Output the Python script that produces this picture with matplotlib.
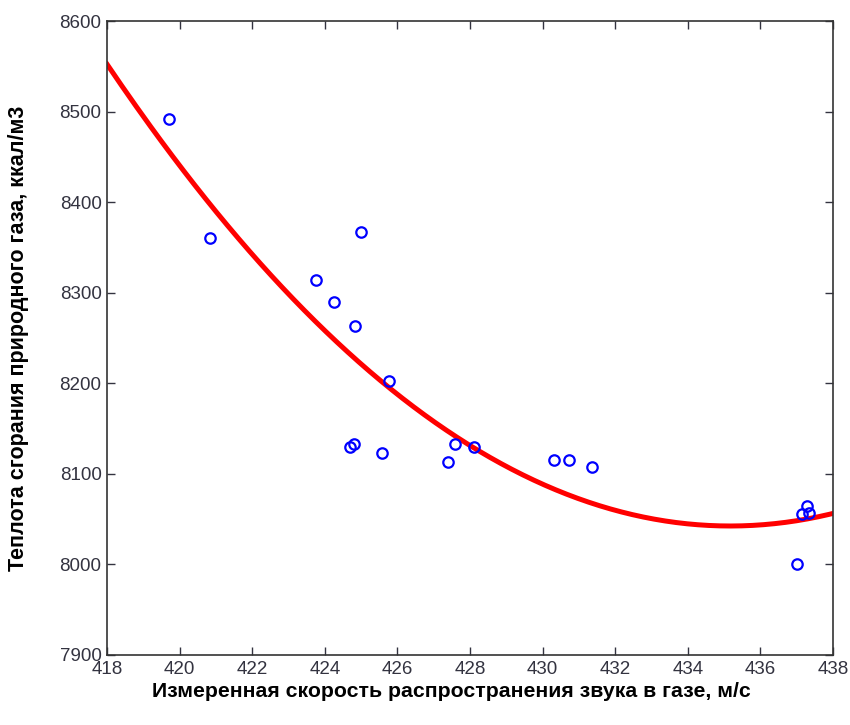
import numpy as np
import matplotlib
matplotlib.use("Agg")
from matplotlib import pyplot as plt

# measured points (speed of sound, heat of combustion)
speed = [419.71, 420.84, 423.76, 424.25, 424.83, 425.00, 425.77, 424.69, 424.80,
         425.58, 427.39, 427.59, 428.11, 430.31, 430.73, 431.36, 437.01, 437.15,
         437.28, 437.34]
heat = [8492, 8360, 8314, 8290, 8263, 8367, 8203, 8130, 8133,
        8123, 8113, 8133, 8130, 8115, 8115, 8108, 8000, 8056,
        8064, 8057]

# red fit curve
curve_x = [418, 420, 422, 424, 426, 428, 430, 432, 434, 436, 438]
curve_y = [8547, 8445, 8345, 8260, 8188, 8128, 8085, 8060, 8046, 8045, 8056]

plt.rcParams['font.family'] = ['Liberation Sans', 'DejaVu Sans']

fig = plt.figure(figsize=(8.5, 7.25), dpi=100)
ax = fig.add_axes([0.126, 0.0966, 0.854, 0.8744])

coef = np.polyfit(curve_x, curve_y, 2)
xs = np.linspace(418, 438, 200)
ax.plot(xs, np.polyval(coef, xs), color='red', linewidth=3.6, zorder=2)
ax.plot(speed, heat, linestyle='none', marker='o', markersize=7.5,
        markerfacecolor='none', markeredgecolor='blue', markeredgewidth=1.6, zorder=3)

ax.set_xlim(418, 438)
ax.set_ylim(7900, 8600)
ax.set_xticks(np.arange(418, 439, 2))
ax.set_yticks(np.arange(7900, 8601, 100))
ax.tick_params(direction='in', top=True, right=True, length=6, width=1,
               labelsize=13.5, colors='#333340', pad=4)
for s in ax.spines.values():
    s.set_linewidth(1.2)
    s.set_color('#333333')

ax.set_xlabel('Измеренная скорость распространения звука в газе, м/с',
              fontsize=15.3, fontweight='bold')
ax.xaxis.set_label_coords(0.474, -0.042)
ax.set_ylabel('Теплота сгорания природного газа, ккал/м3',
              fontsize=15.5, fontweight='bold', labelpad=22)

fig.savefig('out.png', dpi=100)
